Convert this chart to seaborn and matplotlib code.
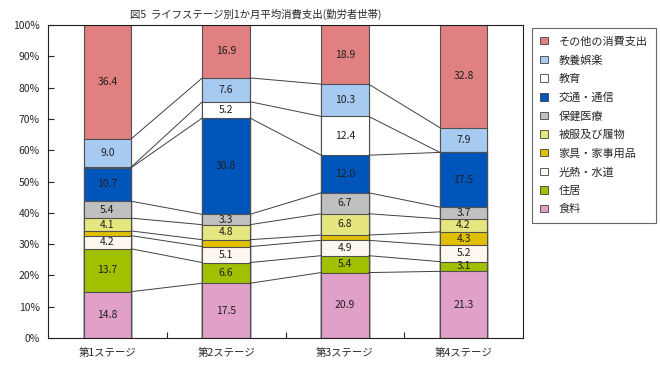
import numpy as np
import pandas as pd
import matplotlib
matplotlib.use('Agg')
import matplotlib.pyplot as plt
from matplotlib.patches import Patch
import seaborn as sns

sns.set_style('white')
plt.rcParams['font.family'] = ['Noto Sans CJK JP', 'DejaVu Sans']

# stages and series (bottom to top)
stages = ['第1ステージ', '第2ステージ', '第3ステージ', '第4ステージ']
series = ['食料', '住居', '光熱・水道', '家具・家事用品', '被服及び履物',
          '保健医療', '交通・通信', '教育', '教養娯楽', 'その他の消費支出']

food = [14.8, 17.5, 20.9, 21.3]
housing = [13.7, 6.6, 5.4, 3.1]
utilities = [4.2, 5.1, 4.9, 5.2]
furniture = [1.5, 2.2, 1.7, 4.3]
clothing = [4.1, 4.8, 6.8, 4.2]
medical = [5.4, 3.3, 6.7, 3.7]
transport = [10.7, 30.8, 12.0, 17.5]
education = [0.2, 5.2, 12.4, 0.0]
culture = [9.0, 7.6, 10.3, 7.9]
other = [36.4, 16.9, 18.9, 32.8]

colors = ['#E0A0C8', '#A0C000', '#FFF8F0', '#E0C000', '#E6E680',
          '#C0C0C0', '#0055BB', '#FFFFFF', '#A6CAF0', '#E08080']

values = np.array([food, housing, utilities, furniture, clothing,
                   medical, transport, education, culture, other])
tops = values.cumsum(axis=0)
bottoms = tops - values

fig = plt.figure(figsize=(6.6, 3.65), dpi=100)
ax = fig.add_axes([48 / 660, 1 - 338 / 365, 475 / 660, 313 / 365])

# stacked bars drawn from the top layer down
for i in range(len(series) - 1, -1, -1):
    df = pd.DataFrame({'stage': stages, 'top': tops[i]})
    sns.barplot(data=df, x='stage', y='top', color=colors[i], width=0.40,
                edgecolor='#505050', linewidth=0.8, saturation=1, ax=ax)

# connecting lines between bars
half = 0.20
for i in range(len(series)):
    for j in range(len(stages) - 1):
        ax.plot([j + half, j + 1 - half], [tops[i][j], tops[i][j + 1]],
                color='#404040', lw=0.7, zorder=1)

# value labels
for i in range(len(series)):
    for j in range(len(stages)):
        v = values[i][j]
        if v >= 3:
            ax.text(j, (bottoms[i][j] + tops[i][j]) / 2, f'{v:.1f}',
                    ha='center', va='center', fontsize=7.5, color='#202020')

ax.set_xlim(-0.5, 3.5)
ax.set_ylim(0, 100)
ax.set_yticks(range(0, 101, 10))
ax.set_yticklabels([f'{t}%' for t in range(0, 101, 10)], fontsize=7.5)
ax.set_xticks(range(4))
ax.set_xticklabels(stages, fontsize=7.5)
ax.set_xticks([0.5, 1.5, 2.5], minor=True)
ax.tick_params(axis='x', which='major', length=0, pad=7)
ax.tick_params(axis='x', which='minor', direction='in', length=4, width=0.8, bottom=True)
ax.tick_params(axis='y', direction='in', length=4, width=0.8, left=True, pad=6)
ax.set_xlabel('')
ax.set_ylabel('')
for s in ax.spines.values():
    s.set_color('#202020')
    s.set_linewidth(0.8)

fig.text(256 / 660, 1 - 14 / 365, '図5  ライフステージ別1か月平均消費支出(勤労者世帯)',
         ha='center', va='center', fontsize=7.5)

handles = [Patch(facecolor=colors[i], edgecolor='#404040', linewidth=0.6,
                 label=series[i]) for i in range(len(series) - 1, -1, -1)]
leg = fig.legend(handles=handles, loc='upper left',
                 bbox_to_anchor=(532 / 660, 1 - 28 / 365), fontsize=8,
                 frameon=True, fancybox=False, edgecolor='#404040',
                 handlelength=0.65, handleheight=0.65, handletextpad=1.0,
                 labelspacing=0.75, borderpad=0.75, borderaxespad=0)
leg.get_frame().set_linewidth(0.8)

fig.savefig('out.png', dpi=100)
